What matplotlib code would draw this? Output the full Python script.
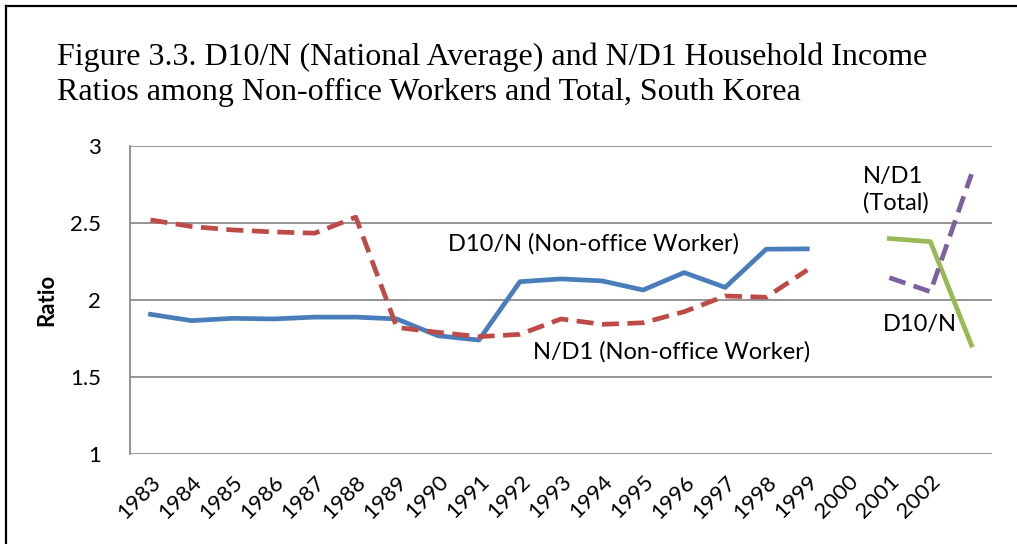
import matplotlib
matplotlib.use("Agg")
import matplotlib.pyplot as plt
from matplotlib.lines import Line2D
import numpy as np

# ---- data ----
years = ["1983", "1984", "1985", "1986", "1987", "1988", "1989", "1990", "1991",
         "1992", "1993", "1994", "1995", "1996", "1997", "1998", "1999", "2000",
         "2001", "2002", ""]
d10n_nonoffice = [1.905, 1.864, 1.879, 1.875, 1.887, 1.887, 1.875, 1.766, 1.738,
                  2.117, 2.135, 2.122, 2.063, 2.176, 2.080, 2.328, 2.330,
                  None, None, None, None]
nd1_nonoffice = [2.518, 2.475, 2.453, 2.440, 2.432, 2.536, 1.820, 1.788, 1.760,
                 1.775, 1.875, 1.840, 1.850, 1.922, 2.024, 2.016, 2.193,
                 None, None, None, None]
d10n_total = [None] * 18 + [2.397, 2.377, 1.705]
nd1_total = [None] * 18 + [2.143, 2.052, 2.815]

title_lines = ["Figure 3.3. D10/N (National Average) and N/D1 Household Income",
               "Ratios among Non-office Workers and Total, South Korea"]

def arr(v):
    return np.array([np.nan if x is None else x for x in v], dtype=float)

W, H = 1017, 544
fig = plt.figure(figsize=(W / 100, H / 100), dpi=100)
ax = fig.add_axes([130 / W, 1 - 453.7 / H, (992 - 130) / W, (453.7 - 145.7) / H])

x = np.arange(len(years))
sans = ["Lato", "DejaVu Sans"]
serif = ["Liberation Serif", "DejaVu Serif"]

ax.plot(x, arr(d10n_nonoffice), color="#4A7EBB", lw=3.4, zorder=3)
ax.plot(x, arr(nd1_nonoffice), color="#BE4B48", lw=3.4, dashes=(3.6, 1.8), zorder=3)
ax.plot(x, arr(d10n_total), color="#98B954", lw=3.4, zorder=3)
ax.plot(x, arr(nd1_total), color="#7D60A0", lw=3.4, dashes=(3.6, 1.8), zorder=3)

ax.set_xlim(-0.5, len(years) - 0.5)
ax.set_ylim(1, 3)
ax.set_yticks([1, 1.5, 2, 2.5, 3])
ax.set_yticklabels(["1", "1.5", "2", "2.5", "3"], fontfamily=sans, fontsize=16)
ax.set_xticks(x)
ax.set_xticklabels(years, rotation=45, ha="right", rotation_mode="anchor",
                   fontfamily=sans, fontsize=16)
ax.tick_params(axis="both", length=0)
ax.tick_params(axis="y", pad=21)
ax.tick_params(axis="x", pad=13)

ax.grid(axis="y", color="#8C8C8C", lw=1.3)
ax.set_axisbelow(True)
for s in ["top", "right", "bottom"]:
    ax.spines[s].set_visible(False)
ax.spines["left"].set_color("#8C8C8C")
ax.spines["left"].set_linewidth(1.3)

ax.set_ylabel("Ratio", fontfamily=sans, fontsize=16, fontweight="bold")
ax.yaxis.set_label_coords((57 - 130) / 862, 0.5)

# annotations
fs = 17
ax.text(7.25, 2.362, "D10/N (Non-office Worker)", fontfamily=sans, fontsize=fs,
        ha="left", va="center")
ax.text(9.32, 1.66, "N/D1 (Non-office Worker)", fontfamily=sans, fontsize=fs,
        ha="left", va="center")
ax.text(17.35, 2.713, "N/D1\n(Total)", fontfamily=sans, fontsize=fs,
        ha="left", va="center", linespacing=1.25)
ax.text(17.83, 1.842, "D10/N", fontfamily=sans, fontsize=fs,
        ha="left", va="center")

# title
fig.text(57 / W, 1 - 65 / H, title_lines[0], fontfamily=serif,
         fontsize=23, ha="left", va="baseline")
fig.text(57 / W, 1 - 100 / H, title_lines[1], fontfamily=serif,
         fontsize=23, ha="left", va="baseline")

# frame border (left and top)
fig.add_artist(Line2D([6 / W, 6 / W], [0, 1 - 6 / H], color="black", lw=1.6,
                      transform=fig.transFigure))
fig.add_artist(Line2D([6 / W, 1], [1 - 6 / H, 1 - 6 / H], color="black", lw=1.6,
                      transform=fig.transFigure))

fig.savefig("out.png", dpi=100)
